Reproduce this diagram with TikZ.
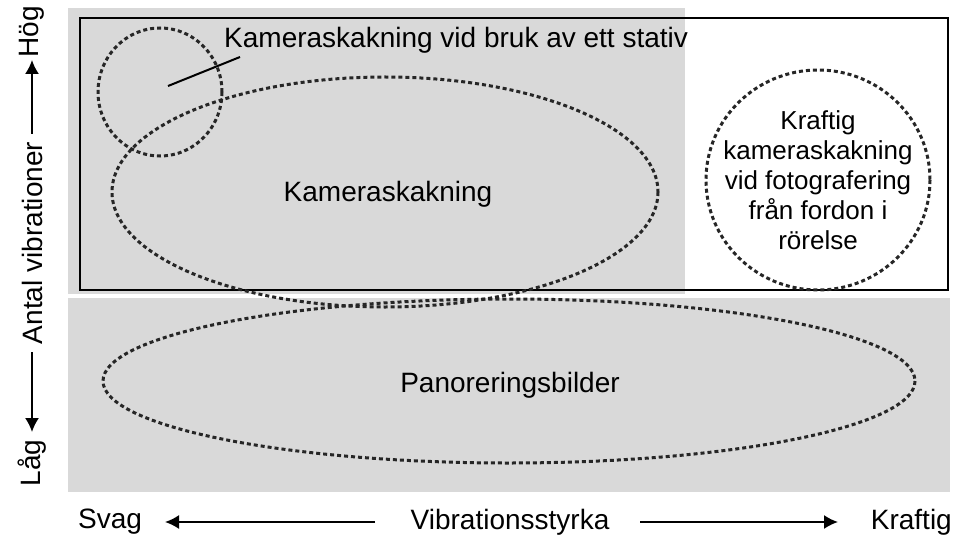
\documentclass[tikz,border=0pt]{standalone}
\usepackage{fontspec}
\setmainfont{Liberation Sans}
\usetikzlibrary{arrows.meta}
\begin{document}
\begin{tikzpicture}[x=1pt,y=-1pt,
 dl/.style={line width=3pt,dash pattern=on 4pt off 3pt,color=black!85},
 lab/.style={font=\fontsize{28}{32}\selectfont,inner sep=0pt},
 arr/.style={line width=1.8pt,-{Latex[length=14pt,width=14pt]}}]
\useasboundingbox (0,0) rectangle (957,548);
\fill[gray!30] (68,8) rectangle (685,294);
\fill[gray!30] (68,298) rectangle (950,492);
\draw[line width=2pt] (80,18) rectangle (948,290);
\draw[dl] (160,92) ellipse [x radius=62,y radius=64];
\draw[dl] (385,192) ellipse [x radius=273,y radius=115];
\draw[dl] (509,381) ellipse [x radius=406,y radius=82];
\draw[dl] (818,180) ellipse [x radius=112,y radius=110];
\node[lab,anchor=west,font=\fontsize{28}{32}\selectfont] (t1) at (224,40) {Kameraskakning vid bruk av ett stativ};
\coordinate (l1) at (240,57); \coordinate (l2) at (168,86);
\draw[line width=2pt] (l1) -- (l2);
\node[lab] (k) at (388,194) {Kameraskakning};
\node[lab] (p) at (510,385) {Panoreringsbilder};
\node[lab,align=center,font=\fontsize{26}{30}\selectfont] (r) at (818,180) {Kraftig\\kameraskakning\\vid fotografering\\från fordon i\\rörelse};
\node[lab,anchor=west] (sv) at (78,522) {Svag};
\node[lab] (vs) at (510,522) {Vibrationsstyrka};
\node[lab,anchor=east] (kr) at (952,522) {Kraftig};
\coordinate (a1) at (375,522); \coordinate (a2) at (165,522);
\coordinate (a3) at (640,522); \coordinate (a4) at (838,522);
\draw[arr] (a1) -- (a2);
\draw[arr] (a3) -- (a4);
\node[lab,rotate=90] (lg) at (32,463) {Låg};
\node[lab,rotate=90] (av) at (32,243) {Antal vibrationer};
\node[lab,rotate=90] (hg) at (32,32) {Hög};
\coordinate (b1) at (32,352); \coordinate (b2) at (32,432);
\coordinate (b3) at (32,134); \coordinate (b4) at (32,60);
\draw[arr] (b1) -- (b2);
\draw[arr] (b3) -- (b4);
\end{tikzpicture}
\end{document}
